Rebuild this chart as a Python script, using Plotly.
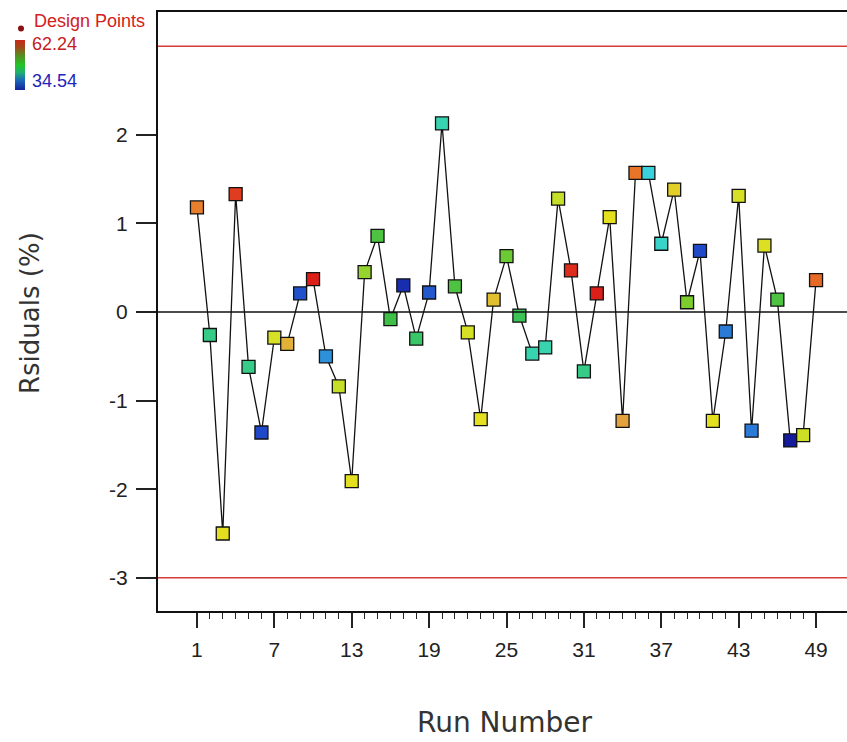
import plotly.graph_objects as go

# Residuals per run with the response value that colours each design point
runs = list(range(1, 50))
residuals = [
    1.18, -0.26, -2.50, 1.33, -0.62, -1.36, -0.29, -0.36, 0.21, 0.37,
    -0.50, -0.84, -1.91, 0.45, 0.86, -0.08, 0.30, -0.30, 0.22, 2.13,
    0.29, -0.23, -1.21, 0.14, 0.63, -0.04, -0.47, -0.40, 1.28, 0.47,
    -0.67, 0.21, 1.07, -1.23, 1.57, 1.57, 0.77, 1.38, 0.11, 0.69,
    -1.23, -0.22, 1.31, -1.34, 0.75, 0.14, -1.45, -1.39, 0.36,
]
response = [
    58.0, 44.5, 52.0, 61.0, 44.5, 37.0, 51.0, 55.0, 37.5, 62.0,
    41.0, 50.0, 52.0, 49.0, 47.0, 46.5, 35.5, 45.5, 38.0, 43.7,
    47.0, 51.0, 52.0, 54.0, 48.0, 46.0, 43.7, 43.7, 50.0, 61.5,
    44.5, 62.0, 52.0, 56.0, 58.5, 42.8, 43.2, 53.0, 48.5, 37.0,
    52.0, 40.1, 51.0, 40.1, 51.5, 47.0, 34.54, 50.5, 59.0,
]
resp_min, resp_max = 34.54, 62.24
limit = 3.0
y_ticks = [-3, -2, -1, 0, 1, 2]
y_ticktext = ["-3", "-2", "-1", "0", "1", "2"]
x_major = list(range(1, 50, 6))

# point colours
colorscale = [
    [0.00, "#141c9c"], [0.08, "#1f45c8"], [0.20, "#2a7ad6"],
    [0.27, "#30a8e0"], [0.30, "#38d4dc"], [0.33, "#38d4b0"],
    [0.36, "#36cc86"], [0.43, "#3cc048"], [0.50, "#78cc30"],
    [0.56, "#c8e028"], [0.63, "#e4e020"], [0.70, "#e0c030"],
    [0.78, "#e4a040"], [0.86, "#e87828"], [0.95, "#e04020"],
    [1.00, "#dc1818"],
]
# legend colour bar
bar_scale = [
    [0.00, "#14249c"], [0.20, "#1a6ab8"], [0.35, "#20b070"],
    [0.50, "#22c428"], [0.70, "#5a8a20"], [0.85, "#a04a18"],
    [1.00, "#c8281a"],
]

W, H = 847, 742
L, R, T, B = 158, 0, 12, 131
PW, PH = W - L - R, H - T - B


def px(x):
    return (x - L) / PW


def py(y):
    return (H - B - y) / PH


FONT = "Liberation Sans, Arial, sans-serif"
TITLE_FONT = "DejaVu Sans, Liberation Sans, sans-serif"

fig = go.Figure()

fig.add_trace(go.Scatter(
    x=runs, y=residuals, mode="lines+markers",
    line=dict(color="#111111", width=1.3),
    marker=dict(
        symbol="square", size=13,
        color=response, colorscale=colorscale,
        cmin=resp_min, cmax=resp_max,
        line=dict(color="#111111", width=1.3),
        showscale=False,
    ),
    hoverinfo="x+y",
    showlegend=False,
))

# colour key for the design points
fig.add_trace(go.Scatter(
    x=[None], y=[None], mode="markers", hoverinfo="skip", showlegend=False,
    marker=dict(
        color=[resp_min, resp_max], colorscale=bar_scale,
        cmin=resp_min, cmax=resp_max, showscale=True,
        colorbar=dict(
            x=px(15), xanchor="left", xref="paper",
            y=py(40), yanchor="top", yref="paper",
            len=50, lenmode="pixels", thickness=10,
            xpad=0, ypad=0, outlinewidth=0,
            showticklabels=False, ticks="",
        ),
    ),
))

shapes = [
    dict(type="line", xref="paper", x0=0, x1=1, yref="y", y0=v, y1=v,
         line=dict(color="#d83a3a", width=1.6))
    for v in (limit, -limit)
]
shapes.append(dict(type="line", xref="paper", x0=0, x1=1, yref="y", y0=0, y1=0,
                   line=dict(color="#111111", width=1.3)))
shapes.append(dict(type="circle", xref="paper", yref="paper",
                   x0=px(18), x1=px(24), y0=py(31.5), y1=py(25.5),
                   fillcolor="#8a1010", line=dict(width=0)))

annotations = [
    dict(x=px(32), y=py(21), xref="paper", yref="paper", text="Design Points",
         showarrow=False, xanchor="left", yanchor="middle",
         font=dict(family=FONT, size=18, color="#d42020")),
    dict(x=px(30), y=py(44), xref="paper", yref="paper", text=f"{resp_max:.2f}",
         showarrow=False, xanchor="left", yanchor="middle",
         font=dict(family=FONT, size=18, color="#c42020")),
    dict(x=px(30), y=py(81.5), xref="paper", yref="paper", text=f"{resp_min:.2f}",
         showarrow=False, xanchor="left", yanchor="middle",
         font=dict(family=FONT, size=18, color="#2424b8")),
    dict(x=px(30), y=py(313), xref="paper", yref="paper", text="Rsiduals (%)",
         showarrow=False, textangle=-90, xanchor="center", yanchor="middle",
         font=dict(family=TITLE_FONT, size=26, color="#333333")),
    dict(x=px(505), y=py(722), xref="paper", yref="paper", text="Run Number",
         showarrow=False, xanchor="center", yanchor="middle",
         font=dict(family=TITLE_FONT, size=28, color="#333333")),
]

fig.update_layout(
    width=W, height=H,
    margin=dict(l=L, r=R, t=T, b=B, autoexpand=False),
    paper_bgcolor="white", plot_bgcolor="white",
    font=dict(family=FONT, size=21, color="#222222"),
    shapes=shapes, annotations=annotations,
    xaxis=dict(
        range=[-2.02, 51.4], showgrid=False, zeroline=False,
        showline=True, linecolor="#111111", linewidth=2, mirror=True,
        tickmode="array", tickvals=x_major,
        ticks="outside", ticklen=15, tickwidth=1.5, tickcolor="#222222",
        ticklabelstandoff=4,
        minor=dict(tickmode="array", tickvals=runs, ticks="outside",
                   ticklen=6, tickwidth=1.2, tickcolor="#222222"),
        tickfont=dict(family=FONT, size=21, color="#222222"),
    ),
    yaxis=dict(
        range=[-3.375, 3.386], showgrid=False, zeroline=False,
        showline=True, linecolor="#111111", linewidth=2, mirror=False,
        tickmode="array", tickvals=y_ticks, ticktext=y_ticktext,
        ticks="outside", ticklen=20, tickwidth=1.5, tickcolor="#222222",
        ticklabelstandoff=4,
        tickfont=dict(family=FONT, size=21, color="#222222"),
    ),
)

fig.write_html("out.html")
